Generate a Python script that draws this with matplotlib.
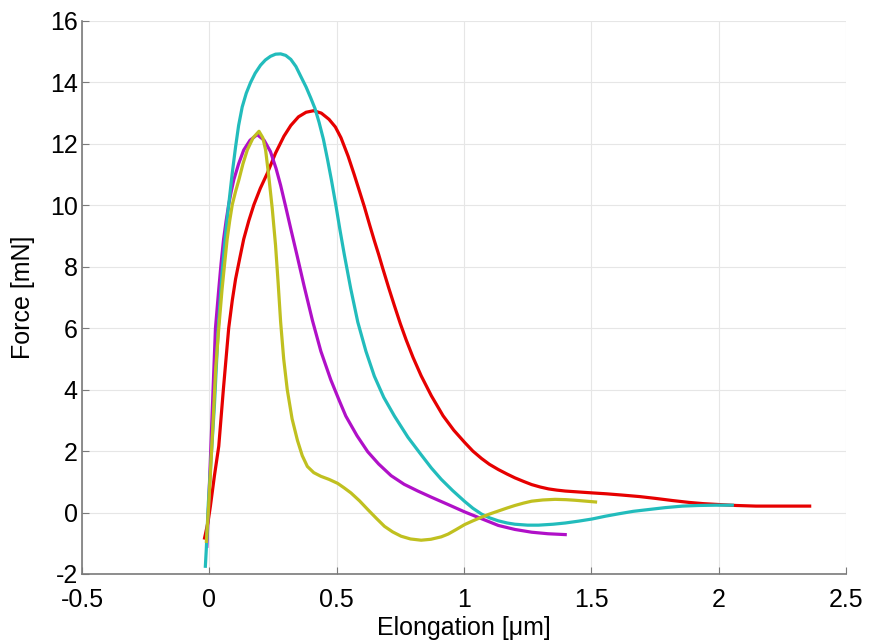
import matplotlib
matplotlib.use('Agg')
import matplotlib.pyplot as plt

plt.rcParams['font.family'] = ['Liberation Sans', 'DejaVu Sans']
plt.rcParams['axes.unicode_minus'] = False

red_x = [-0.02, -0.005, 0.004, 0.02, 0.037, 0.055, 0.076, 0.09, 0.103, 0.12, 0.135, 0.155, 0.175,
         0.2, 0.228, 0.26, 0.293, 0.32, 0.35, 0.38, 0.41, 0.44, 0.47, 0.495, 0.517, 0.545, 0.569,
         0.59, 0.609, 0.63, 0.648, 0.665, 0.681, 0.705, 0.727, 0.75, 0.773, 0.8, 0.832, 0.872,
         0.918, 0.96, 1.003, 1.035, 1.069, 1.1, 1.135, 1.17, 1.2, 1.235, 1.266, 1.3, 1.332, 1.365,
         1.398, 1.45, 1.503, 1.56, 1.62, 1.69, 1.753, 1.82, 1.884, 1.94, 2.003, 2.07, 2.147, 2.25,
         2.364]
red_y = [-0.88, -0.3, 0.2, 1.2, 2.16, 4.0, 6.0, 6.9, 7.6, 8.3, 8.9, 9.5, 10.02,
         10.55, 11.05, 11.7, 12.25, 12.6, 12.88, 13.03, 13.08, 13.0, 12.8, 12.55, 12.2, 11.6, 11.0,
         10.45, 9.95, 9.35, 8.85, 8.4, 7.95, 7.3, 6.73, 6.15, 5.62, 5.05, 4.45, 3.8,
         3.15, 2.68, 2.28, 2.0, 1.76, 1.57, 1.40, 1.25, 1.13, 1.01, 0.91, 0.83, 0.77, 0.73,
         0.70, 0.67, 0.64, 0.61, 0.57, 0.52, 0.46, 0.39, 0.33, 0.29, 0.26, 0.23, 0.21, 0.21,
         0.21]

cyan_x = [-0.016, -0.012, -0.004, 0.005, 0.02, 0.035, 0.05, 0.063, 0.076, 0.09, 0.103, 0.115,
          0.129, 0.145, 0.162, 0.18, 0.201, 0.22, 0.24, 0.26, 0.28, 0.3, 0.32, 0.34, 0.359, 0.38,
          0.398, 0.415, 0.431, 0.448, 0.464, 0.48, 0.497, 0.513, 0.53, 0.555, 0.583, 0.615, 0.648,
          0.685, 0.727, 0.78, 0.832, 0.872, 0.911, 0.955, 1.003, 1.035, 1.069, 1.1, 1.135, 1.17,
          1.2, 1.25, 1.293, 1.35, 1.398, 1.45, 1.503, 1.555, 1.608, 1.665, 1.727, 1.79, 1.858,
          1.92, 1.99, 2.06]
cyan_y = [-1.80, -1.2, 0.3, 1.5, 3.5, 6.0, 7.8, 9.0, 10.02, 11.05, 11.9, 12.6,
          13.2, 13.65, 14.0, 14.3, 14.56, 14.73, 14.85, 14.92, 14.93, 14.88, 14.75, 14.52, 14.2, 13.85,
          13.5, 13.15, 12.7, 12.15, 11.5, 10.8, 10.0, 9.2, 8.4, 7.3, 6.2, 5.25, 4.44,
          3.75, 3.14, 2.45, 1.88, 1.45, 1.08, 0.72, 0.36, 0.14, -0.05, -0.17, -0.27, -0.34,
          -0.38, -0.41, -0.41, -0.38, -0.34, -0.28, -0.21, -0.12, -0.04, 0.04, 0.10, 0.16, 0.21,
          0.23, 0.24, 0.24]

purple_x = [-0.01, -0.003, 0.01, 0.024, 0.037, 0.046, 0.056, 0.066, 0.076, 0.086, 0.096, 0.115,
            0.135, 0.16, 0.188, 0.215, 0.24, 0.262, 0.28, 0.3, 0.32, 0.345, 0.372, 0.405, 0.438,
            0.477, 0.51, 0.536, 0.58, 0.622, 0.665, 0.714, 0.765, 0.819, 0.872, 0.938, 1.003,
            1.069, 1.135, 1.2, 1.266, 1.33, 1.404]
purple_y = [-1.15, 0.2, 3.0, 6.0, 7.27, 8.1, 8.9, 9.5, 10.02, 10.45, 10.83, 11.35,
            11.8, 12.12, 12.3, 12.12, 11.75, 11.2, 10.65, 9.95, 9.23, 8.35, 7.38, 6.25, 5.25,
            4.32, 3.65, 3.14, 2.5, 1.98, 1.58, 1.2, 0.92, 0.7, 0.5, 0.26, 0.02,
            -0.2, -0.42, -0.55, -0.64, -0.69, -0.72]

yellow_x = [-0.012, -0.002, 0.015, 0.025, 0.037, 0.05, 0.06, 0.07, 0.08, 0.09, 0.103, 0.116,
            0.132, 0.149, 0.172, 0.195, 0.21, 0.221, 0.234, 0.247, 0.26, 0.27, 0.28, 0.292,
            0.306, 0.325, 0.346, 0.365, 0.385, 0.41, 0.438, 0.47, 0.504, 0.53, 0.556, 0.59, 0.622,
            0.655, 0.688, 0.72, 0.753, 0.79, 0.832, 0.87, 0.911, 0.938, 0.97, 1.003, 1.035, 1.069,
            1.1, 1.135, 1.17, 1.2, 1.235, 1.266, 1.31, 1.358, 1.4, 1.437, 1.48, 1.523]
yellow_y = [-0.99, 0.3, 3.0, 4.7, 6.0, 7.27, 8.1, 8.9, 9.5, 10.02, 10.45, 10.83,
            11.35, 11.8, 12.2, 12.41, 12.2, 11.8, 10.9, 9.9, 8.7, 7.5, 6.2, 5.0,
            4.0, 3.05, 2.35, 1.85, 1.5, 1.3, 1.18, 1.08, 0.95, 0.8, 0.64, 0.38, 0.10,
            -0.18, -0.45, -0.63, -0.77, -0.86, -0.90, -0.87, -0.79, -0.70, -0.55, -0.39, -0.27, -0.15,
            -0.05, 0.05, 0.15, 0.23, 0.31, 0.37, 0.41, 0.43, 0.42, 0.40, 0.37, 0.34]

x_ticks = [-0.5, 0, 0.5, 1, 1.5, 2, 2.5]
x_tick_labels = ['-0.5', '0', '0.5', '1', '1.5', '2', '2.5']
y_ticks = [-2, 0, 2, 4, 6, 8, 10, 12, 14, 16]

fig = plt.figure(figsize=(8.69, 6.44), dpi=100)
ax = fig.add_axes([0.0944, 0.1087, 0.879, 0.8587])

lw = 2.3
ax.plot(red_x, red_y, color='#e60000', lw=lw, solid_capstyle='butt', solid_joinstyle='round')
ax.plot(purple_x, purple_y, color='#b010c8', lw=lw, solid_capstyle='butt', solid_joinstyle='round')
ax.plot(cyan_x, cyan_y, color='#22bcbc', lw=lw, solid_capstyle='butt', solid_joinstyle='round')
ax.plot(yellow_x, yellow_y, color='#c0c020', lw=lw, solid_capstyle='butt', solid_joinstyle='round')

ax.set_xlim(-0.5, 2.5)
ax.set_ylim(-2, 16)
ax.set_xticks(x_ticks)
ax.set_xticklabels(x_tick_labels)
ax.set_yticks(y_ticks)

ax.grid(True, color='#e6e6e6', lw=0.8)
ax.set_axisbelow(True)
for s in ['top', 'right']:
    ax.spines[s].set_visible(False)
for s in ['left', 'bottom']:
    ax.spines[s].set_color('#7a7a7a')
    ax.spines[s].set_linewidth(1.2)
ax.tick_params(direction='in', length=5, color='#7a7a7a', labelsize=18)
ax.tick_params(axis='x', pad=10)
ax.tick_params(axis='y', pad=3)

ax.set_xlabel('Elongation [μm]', fontsize=18, labelpad=3)
ax.set_ylabel('Force [mN]', fontsize=18, labelpad=11)

fig.savefig('out.png', dpi=100)
